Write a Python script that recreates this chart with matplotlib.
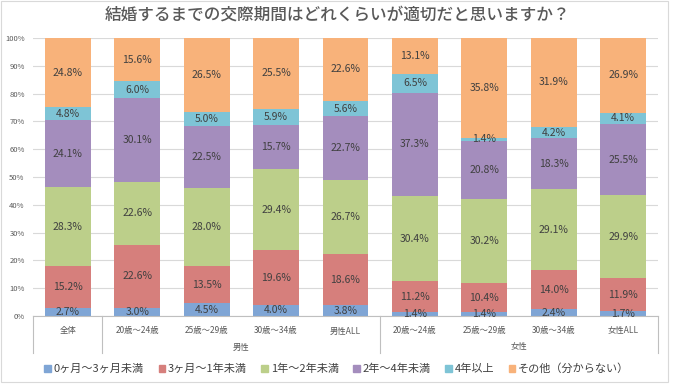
import matplotlib
matplotlib.use("Agg")
import matplotlib.pyplot as plt
import numpy as np
from matplotlib.patches import Rectangle
from matplotlib.lines import Line2D

plt.rcParams['font.family'] = ['Noto Sans CJK JP', 'DejaVu Sans']

title = "結婚するまでの交際期間はどれくらいが適切だと思いますか？"
categories = ["全体", "20歳～24歳", "25歳～29歳", "30歳～34歳", "男性ALL",
              "20歳～24歳", "25歳～29歳", "30歳～34歳", "女性ALL"]
groups = [("男性", 1, 4), ("女性", 5, 8)]
series_names = ["0ヶ月～3ヶ月未満", "3ヶ月～1年未満", "1年～2年未満",
                "2年～4年未満", "4年以上", "その他（分からない）"]
s0 = [2.7, 3.0, 4.5, 4.0, 3.8, 1.4, 1.4, 2.4, 1.7]
s1 = [15.2, 22.6, 13.5, 19.6, 18.6, 11.2, 10.4, 14.0, 11.9]
s2 = [28.3, 22.6, 28.0, 29.4, 26.7, 30.4, 30.2, 29.1, 29.9]
s3 = [24.1, 30.1, 22.5, 15.7, 22.7, 37.3, 20.8, 18.3, 25.5]
s4 = [4.8, 6.0, 5.0, 5.9, 5.6, 6.5, 1.4, 4.2, 4.1]
s5 = [24.8, 15.6, 26.5, 25.5, 22.6, 13.1, 35.8, 31.9, 26.9]
colors = ["#7fa5d5", "#d67f7c", "#bccf8a", "#a48dbd", "#7ec4d6", "#f8b27a"]

series = [s0, s1, s2, s3, s4, s5]
data = np.array(series, dtype=float)
totals = data.sum(axis=0)
norm = data / totals * 100

W, H = 674, 387
fig = plt.figure(figsize=(W / 100, H / 100), dpi=100)
fig.patch.set_facecolor("white")

left, right, top, bottom = 33, 658, 38, 316
ax = fig.add_axes([left / W, 1 - bottom / H, (right - left) / W, (bottom - top) / H])

x = np.arange(len(categories))
bottoms = np.zeros(len(categories))
for i in range(len(series)):
    ax.bar(x, norm[i], bottom=bottoms, width=0.66, color=colors[i], label=series_names[i], zorder=2)
    for j in range(len(categories)):
        ax.text(x[j], bottoms[j] + norm[i][j] / 2, f"{series[i][j]:.1f}%",
                ha="center", va="center", fontsize=7.5, color="#404040", zorder=3)
    bottoms += norm[i]

ax.set_xlim(-0.5, len(categories) - 0.5)
ax.set_ylim(0, 100)
ax.set_yticks(np.arange(0, 101, 10))
ax.set_yticklabels([f"{v}%" for v in range(0, 101, 10)], fontsize=5.5, color="#595959")
ax.yaxis.grid(True, color="#d9d9d9", linewidth=0.8, zorder=0)
ax.set_axisbelow(True)
ax.tick_params(axis="y", length=0, pad=6)
ax.set_xticks([])
for s in ["top", "right", "left"]:
    ax.spines[s].set_visible(False)
ax.spines["bottom"].set_color("#bfbfbf")
ax.spines["bottom"].set_linewidth(0.8)


def fy(py):
    return 1 - py / H


for j, c in enumerate(categories):
    fig.text(left / W + (x[j] + 0.5) / len(categories) * (right - left) / W, fy(331), c,
             ha="center", va="center", fontsize=6, color="#595959")
for name, a, b in groups:
    cx = (a + b) / 2
    fig.text(left / W + (cx + 0.5) / len(categories) * (right - left) / W, fy(347), name,
             ha="center", va="center", fontsize=6, color="#595959")
for sep in [-0.5, 0.5, 4.5, len(categories) - 0.5]:
    px = left + (sep + 0.5) / len(categories) * (right - left)
    fig.add_artist(Line2D([px / W, px / W], [fy(316), fy(353)], color="#bfbfbf", linewidth=0.8))

fig.text(0.5, fy(15), title, ha="center", va="center", fontsize=12, fontweight="medium",
         color="#595959")

handles = [Rectangle((0, 0), 1, 1, color=c) for c in colors]
fig.legend(handles, series_names, loc="center", bbox_to_anchor=(0.5, fy(369)), ncol=6,
           frameon=False, fontsize=8, handlelength=0.6, handleheight=0.6,
           handletextpad=0.25, columnspacing=1.3, labelcolor="#404040")

fig.add_artist(Rectangle((1 / W, fy(382)), 667 / W, (381) / H, transform=fig.transFigure,
                         fill=False, edgecolor="#d9d9d9", linewidth=0.8))

fig.savefig("out.png", dpi=100)
